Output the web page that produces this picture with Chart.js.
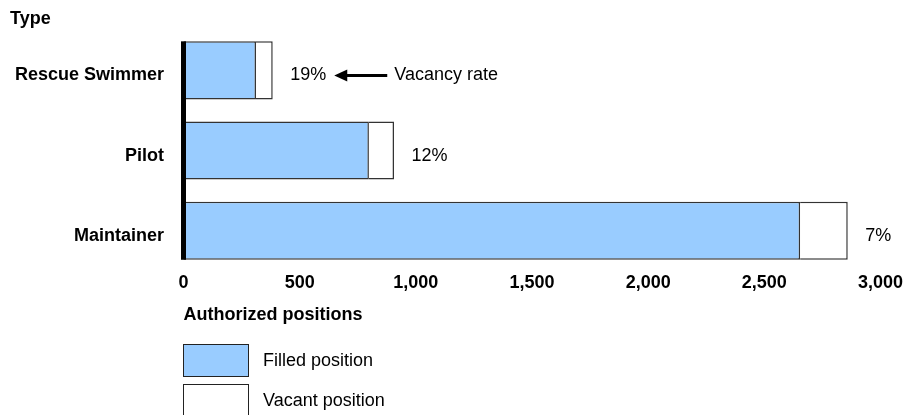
<!DOCTYPE html>
<html>
<head>
<meta charset="utf-8">
<script src="https://cdn.jsdelivr.net/npm/chart.js@4"></script>
<style>
  html, body { margin: 0; padding: 0; background: #fff; }
  body { width: 918px; height: 415px; position: relative; overflow: hidden;
         font-family: "Liberation Sans", Arial, sans-serif; color: #000; }
  #wrap { position: absolute; left: 0; top: 0; width: 918px; height: 415px; }
  .note { position: absolute; font-size: 18px; line-height: 20px; white-space: nowrap; }
  .bold { font-weight: bold; }
  .swatch { position: absolute; left: 183px; width: 64px; height: 31px; border: 1px solid #222; }
</style>
</head>
<body>
<div id="wrap"><canvas id="chart" width="918" height="415"></canvas></div>
<div class="note bold" style="left:10px; top:8px;">Type</div>
<div id="legend"></div>

<script>
// ================= DATA =================
const types = ["Rescue Swimmer", "Pilot", "Maintainer"];
const filled = [312, 798, 2654];
const vacant = [72, 108, 205];
const vacancyRates = ["19%", "12%", "7%"];
const xTicks = [0, 500, 1000, 1500, 2000, 2500, 3000];
const legendLabels = ["Filled position", "Vacant position"];
const legendColors = ["#99CCFF", "#FFFFFF"];

// ================= LEGEND =================
const legendEl = document.getElementById("legend");
legendLabels.forEach((label, i) => {
  const top = 344 + i * 40;
  legendEl.innerHTML += `
    <div class="swatch" style="top:${top}px; background:${legendColors[i]}"></div>
    <div class="note" style="left:263px; top:${top + 6}px;">${label}</div>
  `;
});

// ================= PLUGIN =================
// text in the original sits a few px below the bar centres
const TEXT_SHIFT = 5;

const annotate = {
  id: "annotate",
  afterDatasetsDraw(chart) {
    const ctx = chart.ctx;
    const metaFilled = chart.getDatasetMeta(0);
    const metaVacant = chart.getDatasetMeta(1);

    // thick axis line spanning the bars
    const first = metaFilled.data[0];
    const last = metaFilled.data[metaFilled.data.length - 1];
    const x0 = chart.scales.x.getPixelForValue(0);
    ctx.save();
    ctx.fillStyle = "#000";
    ctx.fillRect(x0 - 2.5, first.y - first.height / 2, 5, last.y - first.y + first.height);

    ctx.font = "18px 'Liberation Sans', Arial, sans-serif";
    ctx.textBaseline = "middle";
    ctx.textAlign = "left";
    metaVacant.data.forEach((bar, i) => {
      const tx = bar.x + 17.5;
      const ty = bar.y + TEXT_SHIFT;
      ctx.fillText(vacancyRates[i], tx, ty);
      if (i === 0) {
        const w = ctx.measureText(vacancyRates[i]).width;
        const tip = tx + w + 8;
        const tail = tip + 53;
        ctx.strokeStyle = "#000";
        ctx.lineWidth = 3;
        ctx.beginPath();
        ctx.moveTo(tip + 8, ty);
        ctx.lineTo(tail, ty);
        ctx.stroke();
        ctx.beginPath();
        ctx.moveTo(tip, ty);
        ctx.lineTo(tip + 13, ty - 6);
        ctx.lineTo(tip + 13, ty + 6);
        ctx.closePath();
        ctx.fill();
        ctx.fillText("Vacancy rate", tail + 7, ty);
      }
    });
    ctx.restore();
  }
};

// ================= CHART =================
Chart.defaults.font.family = "'Liberation Sans', Arial, sans-serif";
Chart.defaults.color = "#000";

new Chart(document.getElementById("chart"), {
  type: "bar",
  data: {
    labels: types,
    datasets: [
      {
        label: legendLabels[0],
        data: filled,
        backgroundColor: legendColors[0],
        borderColor: "#333",
        borderWidth: 1.5
      },
      {
        label: legendLabels[1],
        data: vacant,
        backgroundColor: legendColors[1],
        borderColor: "#333",
        borderWidth: 1.5
      }
    ]
  },
  options: {
    indexAxis: "y",
    responsive: false,
    animation: false,
    events: [],
    categoryPercentage: 1,
    barPercentage: 0.725,
    layout: { padding: { top: 30, right: 37.5, bottom: 89, left: 0 } },
    plugins: {
      legend: { display: false },
      tooltip: { enabled: false }
    },
    scales: {
      x: {
        stacked: true,
        min: 0,
        max: 3000,
        afterBuildTicks: scale => { scale.ticks = xTicks.map(v => ({ value: v })); },
        grid: { display: false, drawTicks: false },
        border: { display: false },
        ticks: {
          padding: 1,
          font: { size: 18, weight: "bold" },
          callback: v => v.toLocaleString("en-US")
        },
        title: {
          display: true,
          text: "Authorized positions",
          align: "start",
          font: { size: 18, weight: "bold" },
          padding: { top: 10, bottom: 0 }
        }
      },
      y: {
        stacked: true,
        afterFit: scale => { scale.width = 183.5; },
        grid: { display: false, drawTicks: false },
        border: { display: false },
        ticks: {
          padding: 19.5,
          labelOffset: TEXT_SHIFT,
          font: { size: 18, weight: "bold" }
        }
      }
    }
  },
  plugins: [annotate]
});
</script>
</body>
</html>
